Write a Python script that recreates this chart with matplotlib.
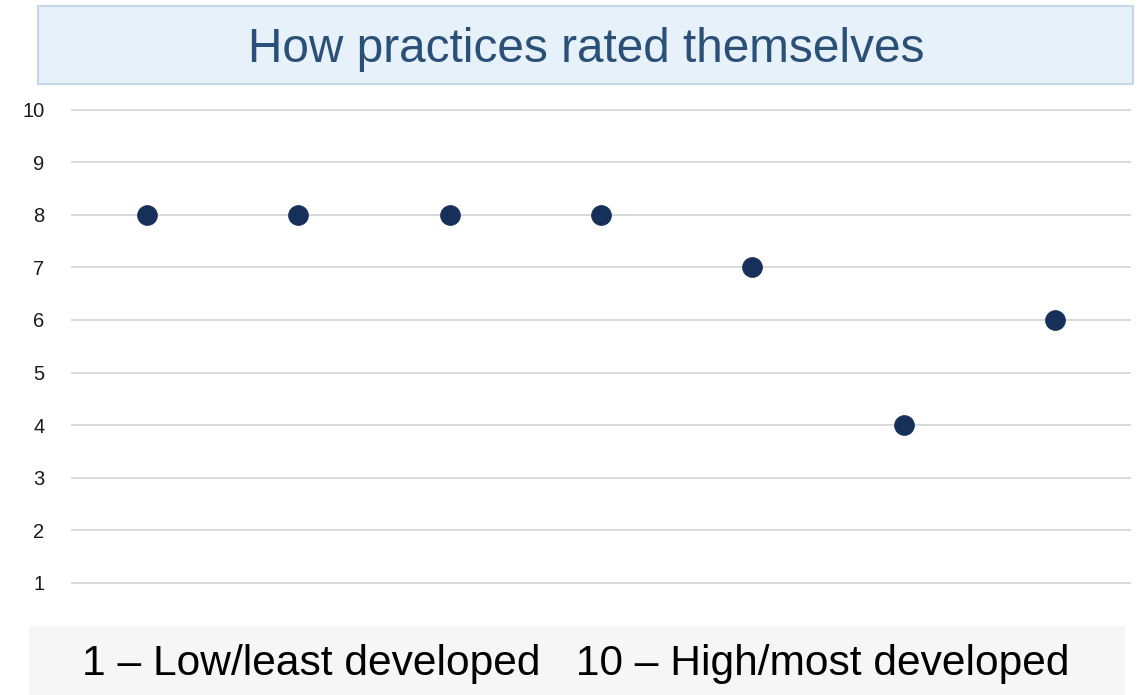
import matplotlib.pyplot as plt
from matplotlib.patches import Rectangle

# self-assessment score of each practice (1 = least, 10 = most developed)
practices = ["A", "B", "C", "D", "E", "F", "G"]
scores = [8, 8, 8, 8, 7, 4, 6]
y_ticks = list(range(1, 11))

plt.rcParams['font.family'] = ['Liberation Sans', 'DejaVu Sans']

W, H = 1140, 695
fig = plt.figure(figsize=(W / 100, H / 100), dpi=100)

def box(x0, y0, x1, y1):
    # pixel box (top-left origin) -> figure fraction rect
    return [x0 / W, 1 - y1 / H, (x1 - x0) / W, (y1 - y0) / H]

# plot area: y=1 gridline at 583px, y=10 at 109.5px
unit = (583 - 109.5) / 9
ylo, yhi = 0.5, 10.2
ax = fig.add_axes(box(71, 109.5 - (yhi - 10) * unit, 1131, 583 + (1 - ylo) * unit))
ax.scatter(range(len(practices)), scores, s=205, color="#16305a", zorder=3,
           edgecolors="#16305a", linewidths=0.5)
ax.set_xlim(-0.5, len(practices) - 0.5)
ax.set_ylim(ylo, yhi)
ax.set_yticks(y_ticks)
ax.set_xticks([])
ax.tick_params(axis="y", length=0, pad=19, labelsize=14.5, labelcolor="#1a1a1a")
ax.grid(axis="y", color="#d9d9d9", linewidth=1.4)
ax.set_axisbelow(True)
for s in ax.spines.values():
    s.set_visible(False)

# title banner
fig.patches.append(Rectangle(box(38, 6, 1133, 84)[:2], *box(38, 6, 1133, 84)[2:],
                             transform=fig.transFigure, facecolor="#e7f1f9",
                             edgecolor="#c5d8eb", linewidth=1.5, zorder=0))
fig.text(586 / W, 1 - 50 / H, "How practices rated themselves", ha="center",
         va="center", fontsize=34.4, color="#2b5078")

# scale key at the bottom
fig.patches.append(Rectangle(box(29, 626, 1125, 695)[:2], *box(29, 626, 1125, 695)[2:],
                             transform=fig.transFigure, facecolor="#f6f6f6",
                             edgecolor="none", zorder=0))
fig.text(576 / W, 1 - 664 / H,
         "1 \u2013 Low/least developed   10 \u2013 High/most developed",
         ha="center", va="center", fontsize=30.6, color="#000000")

fig.savefig("out.png", dpi=100)
